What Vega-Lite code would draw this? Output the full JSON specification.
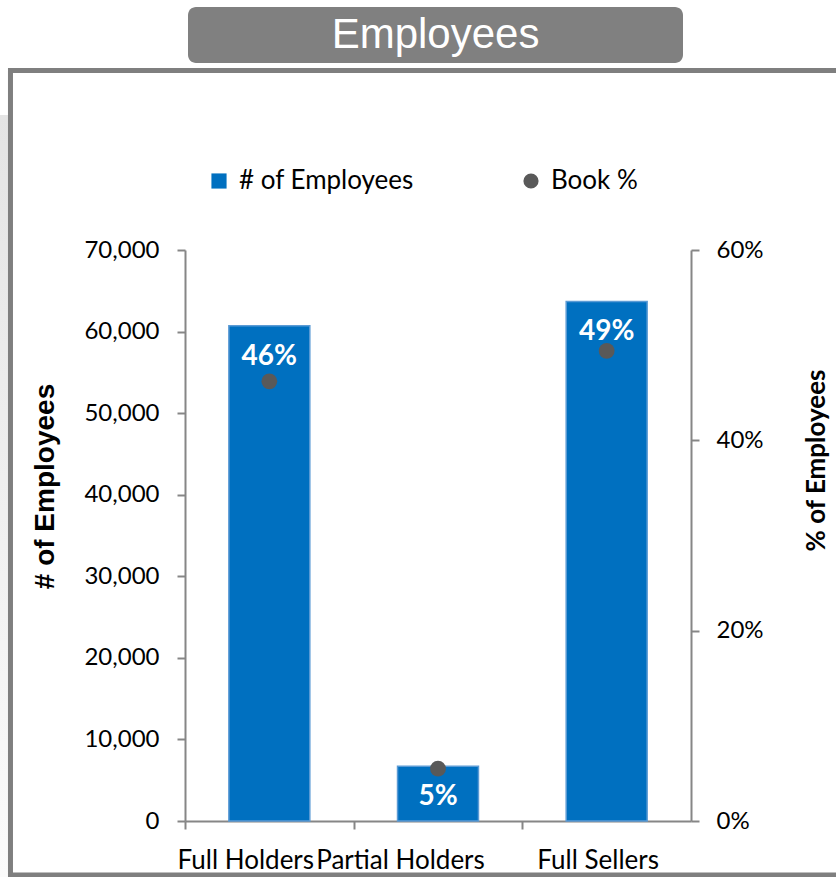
{
  "$schema": "https://vega.github.io/schema/vega-lite/v6.json",
  "autosize": "none",
  "padding": {"left": 185, "top": 250, "right": 145, "bottom": 56},
  "width": 506,
  "height": 571,
  "background": "white",
  "config": {"view": {"stroke": null}, "font": "Lato"},
  "data": {"values": [
    {"group": "Full Holders", "employees": 60700, "book": 0.462, "label": "46%"},
    {"group": "Partial Holders", "employees": 6700, "book": 0.055, "label": "5%"},
    {"group": "Full Sellers", "employees": 63700, "book": 0.494, "label": "49%"}
  ]},
  "layer": [
    {
      "data": {"values": [{"part": "side"}]},
      "mark": {"type": "rect", "clip": false, "fill": {"gradient": "linear", "x1": 0, "y1": 0, "x2": 0, "y2": 1, "stops": [{"offset": 0, "color": "#e4e4e4"}, {"offset": 1, "color": "#fbfbfb"}]}},
      "encoding": {
        "x": {"datum": -0.3656, "type": "quantitative", "scale": {"domain": [0, 1]}, "axis": null},
        "x2": {"datum": -0.3498},
        "y": {"datum": 1.2364, "type": "quantitative", "scale": {"domain": [0, 1]}, "axis": null},
        "y2": {"datum": -0.098}
      }
    },
    {
      "data": {"values": [{"part": "frame"}]},
      "mark": {"type": "rect", "clip": false, "filled": false, "stroke": "#7f7f7f", "strokeWidth": 5},
      "encoding": {
        "x": {"datum": -0.3449, "type": "quantitative", "scale": {"domain": [0, 1]}, "axis": null},
        "x2": {"datum": 1.31},
        "y": {"datum": 1.3144, "type": "quantitative", "scale": {"domain": [0, 1]}, "axis": null},
        "y2": {"datum": -0.0946}
      }
    },
    {
      "data": {"values": [{"title": "Employees"}]},
      "mark": {"type": "rect", "clip": false, "fill": "#808080", "cornerRadius": 8},
      "encoding": {
        "x": {"datum": 0.00593, "type": "quantitative", "scale": {"domain": [0, 1]}, "axis": null},
        "x2": {"datum": 0.9842},
        "y": {"datum": 1.4256, "type": "quantitative", "scale": {"domain": [0, 1]}, "axis": null},
        "y2": {"datum": 1.3275}
      }
    },
    {
      "data": {"values": [{"title": "Employees"}]},
      "mark": {"type": "text", "clip": false, "color": "white", "font": "Liberation Sans", "fontSize": 42, "align": "center", "baseline": "middle"},
      "encoding": {
        "x": {"datum": 0.4951, "type": "quantitative", "scale": {"domain": [0, 1]}, "axis": null},
        "y": {"datum": 1.3765, "type": "quantitative", "scale": {"domain": [0, 1]}, "axis": null},
        "text": {"field": "title"}
      }
    },
    {
      "layer": [
        {
          "mark": {"type": "bar", "stroke": "#5B9BD5", "strokeWidth": 1.5},
          "encoding": {
            "x": {"field": "group", "type": "nominal", "sort": null,
              "scale": {"paddingInner": 0.52, "paddingOuter": 0.26},
              "axis": {"title": null, "labelAngle": 0, "labelFont": "Lato", "labelFontSize": 26, "labelColor": "black", "labelOverlap": false, "labelLimit": 0, "labelPadding": 18,
                "tickOffset": -84.33,
                "labelOffset": {"condition": [{"test": "datum.value === 'Full Holders'", "value": 60.3}, {"test": "datum.value === 'Partial Holders'", "value": 46.3}], "value": 75.3},
                "tickSize": 8, "tickColor": "#868686", "tickWidth": 2, "domainColor": "#868686", "domainWidth": 2}},
            "y": {"field": "employees", "type": "quantitative",
              "scale": {"domain": [0, 70000]},
              "axis": {"values": [0, 10000, 20000, 30000, 40000, 50000, 60000, 70000], "format": ",d", "grid": false, "labelFont": "Lato", "labelFontSize": 24, "labelColor": "black", "labelPadding": 18, "tickSize": 8, "tickColor": "#868686", "tickWidth": 2, "domainColor": "#868686", "domainWidth": 2,
                "title": "# of Employees", "titleFont": "Liberation Sans", "titleFontWeight": "bold", "titleFontSize": 28, "titleColor": "black", "titlePadding": 24, "titleY": 236}},
            "color": {"datum": "# of Employees", "type": "nominal",
              "scale": {"domain": ["# of Employees", "Book %"], "range": ["#0070C0", "#595959"]},
              "legend": {"title": null, "orient": "none", "legendX": 21, "legendY": -82, "direction": "horizontal",
                "labelFont": "Lato", "labelFontSize": 26, "labelColor": "black", "labelLimit": 0, "symbolSize": 230, "symbolStrokeWidth": 0, "labelOffset": 7, "columnPadding": 104}}
          }
        },
        {
          "mark": {"type": "text", "color": "white", "font": "Lato", "fontWeight": "bold", "fontSize": 28, "baseline": "top", "dy": 17},
          "encoding": {
            "x": {"field": "group", "type": "nominal", "sort": null},
            "y": {"field": "employees", "type": "quantitative", "scale": {"domain": [0, 70000]}, "axis": null},
            "text": {"field": "label"}
          }
        },
        {
          "mark": {"type": "point", "filled": true, "size": 250, "opacity": 1, "strokeWidth": 0},
          "encoding": {
            "x": {"field": "group", "type": "nominal", "sort": null},
            "y": {"field": "book", "type": "quantitative",
              "scale": {"domain": [0, 0.6]},
              "axis": {"orient": "right", "values": [0, 0.2, 0.4, 0.6], "format": ".0%", "grid": false, "labelFont": "Lato", "labelFontSize": 24, "labelColor": "black", "labelPadding": 17, "tickSize": 8, "tickColor": "#868686", "tickWidth": 2, "domainColor": "#868686", "domainWidth": 2,
                "title": "% of Employees", "titleFont": "Lato", "titleFontWeight": "bold", "titleFontSize": 26, "titleColor": "black", "titleAngle": 270, "titlePadding": 66, "titleY": 210}},
            "color": {"datum": "Book %", "type": "nominal"},
            "shape": {"datum": "Book %", "type": "nominal",
              "scale": {"domain": ["# of Employees", "Book %"], "range": ["square", "circle"]},
              "legend": {"title": null, "orient": "none", "legendX": 21, "legendY": -82, "direction": "horizontal",
                "labelFont": "Lato", "labelFontSize": 26, "labelColor": "black", "labelLimit": 0, "symbolSize": 230, "symbolStrokeWidth": 0, "labelOffset": 7, "columnPadding": 104}}
          }
        }
      ],
      "resolve": {"scale": {"y": "independent"}}
    }
  ],
  "resolve": {"scale": {"x": "independent", "y": "independent"}}
}
